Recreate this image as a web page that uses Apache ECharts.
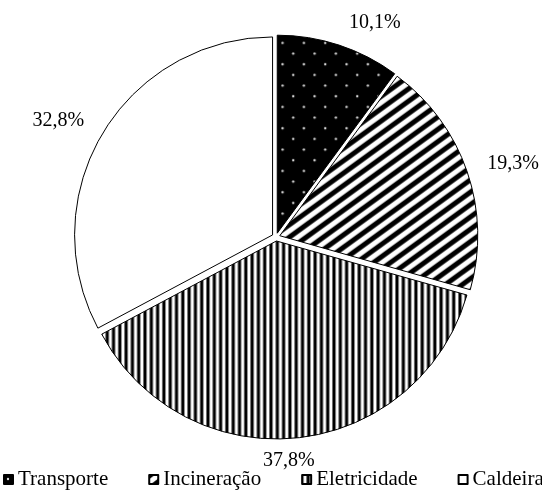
<!DOCTYPE html>
<html>
<head>
<meta charset="utf-8">
<script src="https://cdn.jsdelivr.net/npm/echarts@6/dist/echarts.min.js"></script>
<style>
  html, body { margin: 0; padding: 0; background: #ffffff; }
  #chart { width: 542px; height: 492px; }
</style>
</head>
<body>
<div id="chart"></div>
<script>
// Shares of each end use (%)
const categories = ['Transporte', 'Incineração', 'Eletricidade', 'Caldeira'];
const shares = [10.1, 19.3, 37.8, 32.8];

// Layout
const CX = 276, CY = 237, R = 198, EXPLODE = 4, LABEL_GAP = 16;
const FONT = '"Liberation Serif", "Times New Roman", serif';
const LABEL_SIZE = 20;

// Black fill with a staggered grid of small white dots
function dotsPattern() {
  const n = 64, c = document.createElement('canvas');
  c.width = n; c.height = n;
  const g = c.getContext('2d');
  g.fillStyle = '#000'; g.fillRect(0, 0, n, n);
  g.fillStyle = '#dddddd';
  const step = n / 6;
  for (let i = 0; i < 6; i++) {
    for (let j = 0; j < 6; j++) {
      if ((i + j) % 2 === 0) {
        g.beginPath();
        g.arc(i * step + 4, j * step + 4, 1.2, 0, Math.PI * 2);
        g.fill();
      }
    }
  }
  return c;
}

// Soft black/white stripes, rotated by `deg` (0 = vertical)
function stripePattern(deg, period, ink) {
  const n = 1100, c = document.createElement('canvas');
  c.width = n; c.height = n;
  const g = c.getContext('2d');
  g.fillStyle = '#fff'; g.fillRect(0, 0, n, n);
  g.filter = 'blur(0.6px)';
  g.translate(n / 2, n / 2);
  g.rotate(deg * Math.PI / 180);
  g.fillStyle = '#000';
  for (let x = -n; x < n; x += period) {
    g.fillRect(x, -n, period * ink, 2 * n);
  }
  return c;
}

const fills = [
  { image: dotsPattern(), repeat: 'repeat' },
  { image: stripePattern(54, 10, 0.5), repeat: 'repeat' },
  { image: stripePattern(0, 6.3, 0.5), repeat: 'repeat' },
  '#ffffff'
];

const total = shares.reduce((a, b) => a + b, 0);
const clamp = (v, lo, hi) => Math.max(lo, Math.min(hi, v));

// Place each percentage just outside its (exploded) slice, along the slice bisector
function placeLabel(p) {
  const i = p.dataIndex;
  let before = 0;
  for (let k = 0; k < i; k++) before += shares[k];
  const mid = (before + shares[i] / 2) / total * Math.PI * 2;
  const ux = Math.sin(mid), uy = -Math.cos(mid);
  const ox = CX + ux * EXPLODE, oy = CY + uy * EXPLODE;
  const px = ox + ux * (R + LABEL_GAP), py = oy + uy * (R + LABEL_GAP);
  const hw = p.labelRect.width / 2, hh = LABEL_SIZE * 0.36;
  const x = Math.abs(ux) < 0.2 ? px - hw * 0.4 : px + Math.sign(ux) * (hw + 5);
  const y = py + hh * clamp(uy / 0.9, -1, 1);
  return { x: x, y: y, align: 'center', verticalAlign: 'middle' };
}

const border = { borderColor: '#000', borderWidth: 1 };
const pieData = categories.map((name, i) => ({ name: name, value: shares[i] }));

const chart = echarts.init(document.getElementById('chart'), null, { renderer: 'canvas' });
chart.setOption({
  animation: false,
  backgroundColor: '#ffffff',
  legend: {
    data: categories,
    left: 3,
    bottom: 2,
    width: 640,
    padding: 0,
    itemWidth: 9,
    itemHeight: 9,
    itemGap: 40,
    icon: 'rect',
    selectedMode: false,
    textStyle: { fontFamily: FONT, fontSize: 21, color: '#000' }
  },
  series: [
    {
      // Exploded slices
      type: 'pie',
      center: [CX, CY],
      radius: R,
      startAngle: 90,
      clockwise: true,
      selectedMode: 'multiple',
      selectedOffset: EXPLODE,
      emphasis: { disabled: true },
      label: { show: false },
      labelLine: { show: false },
      data: pieData.map((d, i) => ({
        name: d.name,
        value: d.value,
        selected: true,
        itemStyle: Object.assign({ color: fills[i] }, border),
        select: { itemStyle: Object.assign({ color: fills[i] }, border) }
      }))
    },
    {
      // Percentage labels for the same slices
      type: 'pie',
      center: [CX, CY],
      radius: R,
      startAngle: 90,
      clockwise: true,
      silent: true,
      selectedMode: false,
      avoidLabelOverlap: false,
      emphasis: { disabled: true },
      itemStyle: { color: 'rgba(0,0,0,0)', borderWidth: 0 },
      label: {
        show: true,
        position: 'outside',
        fontFamily: FONT,
        fontSize: LABEL_SIZE,
        color: '#000',
        formatter: p => p.value.toFixed(1).replace('.', ',') + '%'
      },
      labelLine: { show: false },
      labelLayout: placeLabel,
      data: pieData
    }
  ]
});
</script>
</body>
</html>
